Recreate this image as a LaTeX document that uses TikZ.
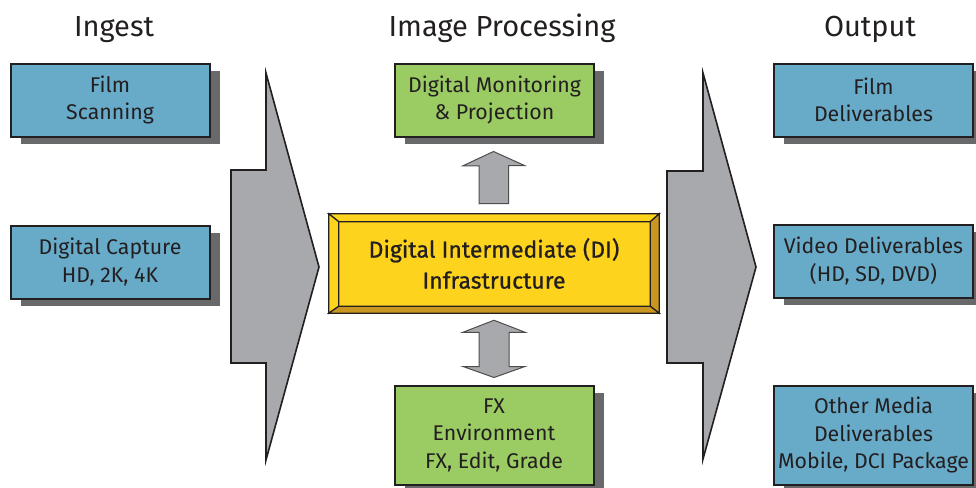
\documentclass[tikz,border=0pt]{standalone}
\usepackage{fontspec}
\setmainfont{Fira Sans}
\newfontfamily\dimedium[FakeBold=0.8]{Fira Sans}
\usetikzlibrary{shadows,calc}

\definecolor{ink}{HTML}{231F20}
\definecolor{boxblue}{HTML}{68ABC9}
\definecolor{boxgreen}{HTML}{9BCB63}
\definecolor{arrowgray}{HTML}{A8A9AD}
\definecolor{shadowgray}{HTML}{69696B}
\definecolor{diyellow}{HTML}{FDD31D}
\definecolor{digold}{HTML}{C99622}

\tikzset{
  header/.style={anchor=base, text=ink, font=\fontsize{29}{32}\selectfont},
  box/.style={draw=ink, line width=2pt, minimum width=199pt, minimum height=73pt,
    align=center, text=ink, font=\fontsize{21.3}{27.5}\selectfont, inner xsep=2pt,
    drop shadow={shadow xshift=10pt, shadow yshift=-7pt, fill=shadowgray, opacity=1}},
  bluebox/.style={box, fill=boxblue},
  greenbox/.style={box, fill=boxgreen},
  tallbox/.style={minimum height=99pt},
  bigarrow/.style={draw=ink, line width=1.6pt, fill=arrowgray, line join=miter},
  smallarrow/.style={draw=ink!80, line width=1pt, fill=arrowgray, line join=miter},
  bevel/.style={draw=ink, line width=1.2pt, line join=miter}
}

\begin{document}
\begin{tikzpicture}[x=1pt, y=-1pt]
    \useasboundingbox (0,0) rectangle (976,487);

    % column titles
    \node[header] (ingest) at (114,37) {Ingest};
    \node[header] (processing) at (502,37) {Image Processing};
    \node[header] (output) at (870,37) {Output};

    % big flow arrows
    \draw[bigarrow] (266,73) -- (319,267) -- (266,460) -- (266,363) -- (231,363) -- (231,170) -- (266,170) -- cycle; % ingest -> DI
    \draw[bigarrow] (703,73) -- (756,267) -- (703,459) -- (703,363) -- (667,363) -- (667,171) -- (703,171) -- cycle; % DI -> output

    % ingest boxes
    \node[bluebox] (scan) at (110,100) {Film\\Scanning};
    \node[bluebox] (capture) at (110,262) {Digital Capture\\HD, 2K, 4K};

    % image processing
    \node[greenbox] (monitor) at (494.5,100) {Digital Monitoring\\\&\ Projection};
    \node[greenbox, tallbox] (fx) at (494,435) {FX\\Environment\\FX, Edit, Grade};
    \node[draw=ink, line width=1.5pt, fill=diyellow, minimum width=329pt, minimum height=98pt,
          align=center, text=ink, font=\dimedium\fontsize{23}{31}\selectfont] (di) at (494,263.5)
          {Digital Intermediate (DI)\\Infrastructure};

    % bevel of the DI box
    \coordinate (dinw) at ($(di.north west)+(10,8)$);
    \coordinate (dine) at ($(di.north east)+(-9,8)$);
    \coordinate (disw) at ($(di.south west)+(10,-7)$);
    \coordinate (dise) at ($(di.south east)+(-9,-7)$);
    \draw[bevel, fill=diyellow] (di.north west) -- (di.north east) -- (dine) -- (dinw) -- cycle; % top
    \draw[bevel, fill=diyellow] (di.north west) -- (dinw) -- (disw) -- (di.south west) -- cycle; % left
    \draw[bevel, fill=digold] (di.north east) -- (di.south east) -- (dise) -- (dine) -- cycle; % right
    \draw[bevel, fill=digold] (di.south west) -- (di.south east) -- (dise) -- (disw) -- cycle; % bottom

    % DI -> monitoring
    \coordinate (upbase) at ($(di.north)+(0,-10)$);
    \coordinate (uptip) at ($(monitor.south)+(-1,14)$);
    \draw[smallarrow] (upbase) ++(-15,0) -- ++(0,-38) -- ++(-16,0) -- (uptip) -- ++(31,14) -- ++(-16,0) -- ++(0,38) -- cycle; % single arrow

    % DI <-> FX
    \coordinate (dntop) at ($(di.south)+(0,7)$);
    \coordinate (dnbot) at ($(fx.north)+(0,-7)$);
    \draw[smallarrow] (dntop) -- ++(31,12) -- ++(-16,0) -- ($(dnbot)+(15,-11)$) -- ++(16,0) -- (dnbot) -- ++(-31,-11) -- ++(16,0) -- ($(dntop)+(-15,12)$) -- ++(-16,0) -- cycle; % double arrow

    % output boxes
    \node[bluebox] (filmout) at (873.5,100) {Film\\Deliverables};
    \node[bluebox] (videoout) at (873.5,261) {Video Deliverables\\(HD, SD, DVD)};
    \node[bluebox, tallbox] (otherout) at (873.5,435) {Other Media\\Deliverables\\Mobile, DCI Package};
\end{tikzpicture}
\end{document}
